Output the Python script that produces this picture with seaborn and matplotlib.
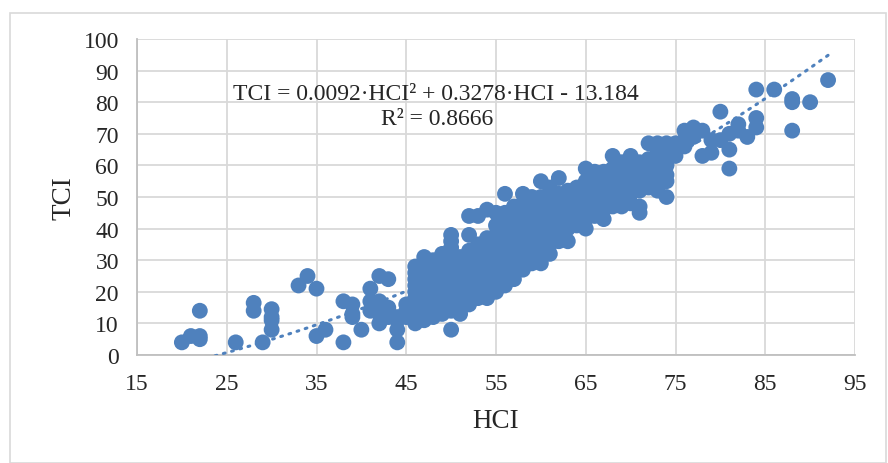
import numpy as np
import pandas as pd
import matplotlib
matplotlib.use("Agg")
import matplotlib.pyplot as plt
import seaborn as sns
from matplotlib.patches import Rectangle

# HCI values (columns) and the TCI values read at each of them
hci_cols = [20, 21, 22, 26, 28, 29, 30, 33, 34, 35, 36, 38, 39, 40, 41, 42, 43, 44, 45,
            46, 47, 48, 49, 50, 51, 52, 53, 54, 55, 56, 57, 58, 59, 60, 61, 62, 63, 64,
            65, 66, 67, 68, 69, 70, 71, 72, 73, 74, 75, 76, 77, 78, 79, 80, 81, 82, 83,
            84, 86, 88, 90, 92]
tci_cols = [
    [4], [6], [6, 5, 14], [4], [14, 16.5], [4], [8, 11, 12, 14.5], [22], [25], [21, 6], [8],
    [17, 4], [16, 13, 12], [8], [21, 17, 14], [25, 17, 10, 15, 13], [24, 15, 12],
    [4, 8, 12, 11], [16, 14, 13, 12],
    [10, 12, 14, 16, 18, 20, 22, 24, 26, 28],
    [11, 13, 15, 17, 19, 21, 23, 25, 27, 29, 31],
    [12, 14, 16, 18, 20, 22, 24, 26, 28, 30],
    [13, 15, 17, 19, 21, 23, 25, 27, 29, 32],
    [8, 14, 16, 18, 20, 22, 24, 26, 28, 30, 34, 36, 38],
    [13, 15, 17, 19, 21, 23, 25, 27, 29, 31],
    [16, 18, 20, 22, 24, 26, 28, 30, 33, 38, 44],
    [18, 20, 22, 24, 26, 28, 30, 32, 35, 44],
    [18, 19, 21, 23, 25, 27, 29, 31, 34, 37, 46],
    [20, 22, 24, 26, 28, 30, 32, 34, 36, 38, 41, 45],
    [22, 24, 26, 28, 30, 33, 36, 39, 42, 45, 51],
    [24, 26, 29, 32, 35, 38, 41, 44, 47],
    [27, 30, 33, 36, 39, 42, 45, 48, 51],
    [29, 31, 34, 37, 40, 43, 46, 50],
    [29, 32, 35, 38, 41, 44, 47, 50, 55],
    [32, 35, 38, 41, 44, 47, 50, 53],
    [36, 39, 42, 45, 48, 51, 56],
    [36, 40, 43, 46, 49, 52],
    [41, 44, 47, 50, 53],
    [40, 43, 46, 49, 52, 55, 59],
    [44, 47, 50, 53, 56, 58],
    [43, 46, 49, 52, 55, 58],
    [47, 50, 53, 56, 59, 63],
    [47, 50, 53, 56, 59, 61],
    [48, 51, 54, 57, 60, 63],
    [45, 47, 52, 55, 58, 61],
    [53, 56, 59, 62, 67],
    [52, 55, 58, 61, 64, 67],
    [50, 55, 57, 60, 63, 67],
    [63, 65, 67], [66, 68, 71], [72, 69], [63, 71], [64, 68], [77, 68], [59, 65, 70],
    [71, 73], [69], [72, 75, 84], [84], [71, 80, 81], [80], [87],
]

# trendline coefficients as printed on the chart
trend_coef = [0.0092, 0.3278, -13.184]
eq_text = "TCI = 0.0092·HCI² + 0.3278·HCI - 13.184"
r2_text = "R² = 0.8666"

rows = [(h, t) for h, ts in zip(hci_cols, tci_cols) for t in ts]
df = pd.DataFrame(rows, columns=["HCI", "TCI"])

sns.set_style("white")
plt.rcParams["font.family"] = ["Liberation Serif", "DejaVu Serif"]

blue = "#4f81bd"
fig = plt.figure(figsize=(8.88, 4.64), dpi=100)
fig.patches.append(Rectangle((10 / 888, 0), 876 / 888, 1 - 14 / 464, transform=fig.transFigure,
                             fill=False, edgecolor="#d9d9d9", lw=1.2))
ax = fig.add_axes([137 / 888, 1 - 356 / 464, 718 / 888, 316 / 464])

# trendline (dotted)
xs = np.linspace(23.7, 92, 200)
ax.plot(xs, np.polyval(trend_coef, xs), color=blue, lw=2.2, ls=(0, (0.6, 2.2)),
        dash_capstyle="round", zorder=3)

sns.scatterplot(data=df, x="HCI", y="TCI", ax=ax, color=blue, s=130, edgecolor="none",
                alpha=1, zorder=2, legend=False)

ax.set_xlim(15, 95)
ax.set_ylim(0, 100)
ax.set_xticks(range(15, 96, 10))
ax.set_yticks(range(0, 101, 10))
ax.grid(True, color="#d9d9d9", lw=1.3)
ax.set_axisbelow(True)
for s in ["top", "right"]:
    ax.spines[s].set_visible(False)
ax.spines["left"].set_color("#bfbfbf")
ax.spines["bottom"].set_color("#bfbfbf")
ax.spines["left"].set_linewidth(1.3)
ax.spines["bottom"].set_linewidth(1.3)
ax.tick_params(length=0, labelsize=17, pad=13)
ax.set_xlabel("HCI", fontsize=19.5, labelpad=10)
ax.set_ylabel("TCI", fontsize=19.5, labelpad=5)

ax.text(48.3, 82.6, eq_text, fontsize=17, ha="center", va="center")
ax.text(48.4, 74.7, r2_text, fontsize=17, ha="center", va="center")

fig.savefig("out.png", dpi=100)
